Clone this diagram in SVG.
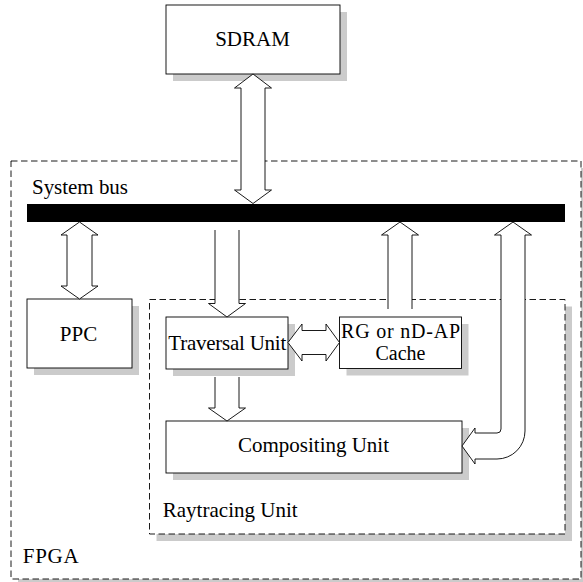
<svg xmlns="http://www.w3.org/2000/svg" width="583" height="582" viewBox="0 0 583 582">
  <style>
    .box { fill: #fff; stroke: #000; stroke-width: 0.9; }
    .frame { fill: #fff; stroke: #000; stroke-width: 0.9; stroke-dasharray: 6.5 3.5; }
    .shadow { fill: #cbcbcb; stroke: none; }
    .arrow { fill: #fff; stroke: #000; stroke-width: 0.9; stroke-linejoin: miter; }
    text { font-family: "Liberation Serif", "Times New Roman", serif; font-size: 21px; fill: #000; }
    .mid { text-anchor: middle; }
  </style>
  <rect width="583" height="582" fill="#fff"/>

  <!-- FPGA frame -->
  <g id="fpga">
    <rect class="shadow" x="18" y="168" width="570" height="418"/>
    <rect class="frame" x="11" y="161" width="570" height="418"/>
    <text x="22.7" y="563" textLength="56" lengthAdjust="spacing">FPGA</text>
  </g>

  <!-- System bus -->
  <g id="system-bus">
    <rect x="27" y="204" width="538" height="18" fill="#000"/>
    <text x="32" y="194" textLength="96" lengthAdjust="spacing">System bus</text>
  </g>

  <!-- Raytracing unit frame -->
  <g id="raytracing-unit">
    <rect class="shadow" x="156.5" y="306.5" width="415.5" height="234.5"/>
    <rect class="frame" x="149.5" y="299.5" width="415.5" height="234.5"/>
    <text x="162.7" y="517" textLength="135" lengthAdjust="spacing">Raytracing Unit</text>
  </g>

  <g id="sdram">
    <rect class="shadow" x="173" y="12" width="174" height="69"/>
    <rect class="box" x="166" y="5" width="174" height="69"/>
    <text class="mid" x="252.5" y="46" font-family="Liberation Serif, serif">SDRAM</text>
  </g>

  <g id="ppc">
    <rect class="shadow" x="34" y="306" width="105" height="69"/>
    <rect class="box" x="27" y="299" width="105" height="69"/>
    <text class="mid" x="78.5" y="341" font-family="Liberation Serif, serif">PPC</text>
  </g>

  <g id="traversal-unit">
    <rect class="shadow" x="173" y="324" width="122" height="52"/>
    <rect class="box" x="166" y="317" width="122" height="52"/>
    <text class="mid" x="227.3" y="350" textLength="118" lengthAdjust="spacing">Traversal Unit</text>
  </g>

  <g id="cache">
    <rect class="shadow" x="346.5" y="324" width="122" height="51.5"/>
    <rect class="box" x="339.5" y="317" width="122" height="51.5"/>
    <text class="mid" x="400.5" y="337.5" style="font-size:20px" textLength="119" lengthAdjust="spacing">RG or nD-AP</text>
    <text class="mid" x="400.5" y="360" style="font-size:20px">Cache</text>
  </g>

  <g id="compositing-unit">
    <rect class="shadow" x="173" y="428" width="296" height="52"/>
    <rect class="box" x="166" y="421" width="296" height="52"/>
    <text class="mid" x="313.5" y="452" textLength="151" lengthAdjust="spacing">Compositing Unit</text>
  </g>

  <!-- Connectors: hollow block arrows -->
  <g id="connectors">
    <!-- SDRAM <-> bus -->
    <path class="arrow" d="M253,74 L271.5,88 L265,88 L265,190 L271.5,190 L253,203.5 L234.5,190 L241,190 L241,88 L234.5,88 Z"/>
    <!-- PPC <-> bus -->
    <path class="arrow" d="M79.5,222 L98,235 L92,235 L92,286 L98,286 L79.5,299 L61,286 L67,286 L67,235 L61,235 Z"/>
    <!-- bus -> Traversal Unit -->
    <path class="arrow" d="M215,230 L215,303.5 L208.5,303.5 L227,317 L245.5,303.5 L239,303.5 L239,230"/>
    <!-- Traversal Unit <-> Cache -->
    <path class="arrow" d="M288,342.5 L302,324 L302,330.5 L326,330.5 L326,324 L339.5,342.5 L326,361 L326,354.5 L302,354.5 L302,361 Z"/>
    <!-- Cache -> bus -->
    <path class="arrow" d="M388,309 L388,235 L381.5,235 L400,222 L418.5,235 L412,235 L412,309"/>
    <!-- Traversal Unit -> Compositing Unit -->
    <path class="arrow" d="M215,377 L215,408 L208.5,408 L227,421 L245.5,408 L239,408 L239,377"/>
    <!-- bus <-> Compositing Unit, bent -->
    <path class="arrow" d="M513,222 L531.5,235 L525,235 L525,431 A28,28 0 0 1 497,459 L475,459 L475,464 L462,446 L475,428 L475,433 L497,433 A4,4 0 0 0 501,429 L501,235 L494.5,235 Z"/>
  </g>
</svg>
